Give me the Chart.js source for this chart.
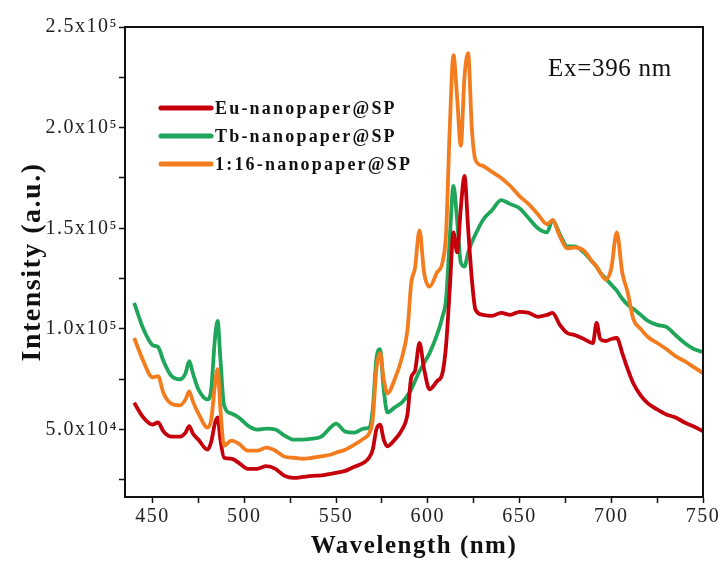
<!DOCTYPE html>
<html>
<head>
<meta charset="utf-8">
<script src="https://cdn.jsdelivr.net/npm/chart.js@4.4.0/dist/chart.umd.min.js"></script>
<style>
  html, body { margin: 0; padding: 0; background: #fff; }
</style>
</head>
<body>
<canvas id="grafico" width="725" height="565"></canvas>
<script>
const longitudes = [440, 445, 450, 453, 456, 460, 465, 468, 470, 472, 475, 480, 482, 484, 485.5, 487, 489, 493, 497, 502,
  507, 512, 517, 522, 527, 532, 537, 542, 547, 550, 555, 560, 565, 568, 570, 572, 574, 576, 578, 582,
  586, 589, 591, 593, 595.5, 598, 601, 605, 608, 610, 612, 614, 616, 618, 620, 622, 624, 626, 630, 635,
  640, 645, 650, 655, 660, 665, 668, 672, 676, 680, 685, 690, 692, 694, 697, 700, 703, 706, 709, 712,
  716, 720, 725, 730, 735, 740, 745, 750];

const euValores = [63300, 56000, 52500, 53500, 49000, 46500, 46500, 48500, 51700, 48000, 45000, 40000, 44000, 53000, 56000, 45000, 36000, 35500, 33500, 30500,
  30500, 31800, 30500, 27000, 26000, 26500, 27000, 27200, 28000, 28500, 29500, 31500, 33500, 36000, 40000, 50000, 52500, 45000, 41700, 45000,
  50000, 58000, 76000, 79000, 93000, 80000, 70000, 74000, 78000, 92000, 120000, 148000, 138000, 160000, 176000, 150000, 125000, 109600, 107000, 106500,
  108000, 107000, 108500, 108000, 106000, 107000, 108000, 102000, 98000, 97000, 95000, 93000, 103000, 95000, 94000, 95000, 95500, 88000, 80000, 73000,
  67000, 63000, 60000, 57500, 56000, 53500, 51500, 49200];

const tbValores = [113000, 100000, 92000, 91000, 84000, 77000, 75000, 78000, 84000, 78000, 70000, 65000, 70000, 95000, 104000, 85000, 62000, 58000, 56000, 52000,
  50000, 50500, 50000, 47000, 45000, 45000, 45500, 46500, 51000, 53000, 49000, 48500, 50500, 51000, 60000, 85000, 90000, 70000, 58500, 61000,
  63500, 67000, 70000, 74000, 79000, 83000, 88000, 97000, 106000, 115000, 145000, 171000, 154000, 133000, 131000, 138000, 143000, 147000, 154000, 159000,
  164000, 162000, 160000, 155000, 150000, 148000, 154000, 147000, 141000, 141000, 138000, 133000, 131000, 128000, 125000, 122000, 119000, 115000, 112000, 110000,
  107000, 104000, 102000, 101000, 97000, 93000, 90000, 88500];

const mixValores = [95500, 84000, 76000, 76500, 68000, 63000, 62000, 65000, 69000, 64000, 58000, 51000, 55000, 72000, 80000, 60000, 42000, 44500, 43000, 39500,
  39500, 41000, 39500, 36500, 36000, 35500, 36000, 36700, 37500, 38500, 40000, 42500, 45500, 48000, 55000, 80000, 88000, 75000, 68000, 75000,
  86000, 100000, 123000, 130000, 149000, 128000, 121000, 128000, 133000, 148000, 200000, 236000, 215000, 191000, 225000, 237000, 200000, 184000, 181000, 178000,
  175000, 171000, 166000, 162000, 157000, 152000, 154000, 146000, 140000, 140500, 139000, 133000, 131000, 128000, 124500, 130000, 148000, 128000, 118000, 105000,
  100000, 96000, 93000, 90000, 86500, 84000, 81000, 78000];

const nombresSeries = ["Eu-nanopaper@SP", "Tb-nanopaper@SP", "1:16-nanopaper@SP"];
const coloresSeries = ["#c5000c", "#1fa65a", "#f37d1e"];
const ticksX = [450, 475, 500, 525, 550, 575, 600, 625, 650, 675, 700, 725, 750];
const ticksY = [25000, 50000, 75000, 100000, 125000, 150000, 175000, 200000, 225000, 250000];
const textoExcitacion = "Ex=396 nm";

const fuente = "'Liberation Serif', 'Times New Roman', serif";

function puntos(valores) {
  return longitudes.map((l, i) => ({ x: l, y: valores[i] }));
}

function etiquetaY(v) {
  if (v % 50000 !== 0) return "";
  if (v >= 100000) return (v / 100000).toFixed(1) + "x10\u2075";
  return (v / 10000).toFixed(1) + "x10\u2074";
}

// el texto de la figura original sale algo espaciado
const espaciado = {
  id: "espaciado",
  beforeDraw(chart) {
    chart.ctx.letterSpacing = "1.5px";
  }
};

// marco superior/derecho, leyenda y texto de excitación
const extras = {
  id: "extras",
  afterDatasetsDraw(chart) {
    const { ctx, chartArea: a } = chart;
    ctx.save();
    ctx.strokeStyle = "#111";
    ctx.lineWidth = 2;
    ctx.beginPath();
    ctx.moveTo(a.left, a.top);
    ctx.lineTo(a.right, a.top);
    ctx.lineTo(a.right, a.bottom);
    ctx.stroke();

    ctx.font = "bold 18px " + fuente;
    ctx.letterSpacing = "2.2px";
    ctx.textBaseline = "middle";
    ctx.fillStyle = "#111";
    nombresSeries.forEach((nombre, i) => {
      const y = 108 + i * 28;
      ctx.strokeStyle = coloresSeries[i];
      ctx.lineWidth = 5;
      ctx.lineCap = "round";
      ctx.beginPath();
      ctx.moveTo(161, y);
      ctx.lineTo(211, y);
      ctx.stroke();
      ctx.fillText(nombre, 215, y + 1);
    });

    ctx.letterSpacing = "0.7px";
    ctx.font = "25px " + fuente;
    ctx.fillText(textoExcitacion, 548, 69);
    ctx.restore();
  }
};

new Chart(document.getElementById("grafico").getContext("2d"), {
  type: "line",
  data: {
    datasets: [
      { label: nombresSeries[0], data: puntos(euValores), borderColor: coloresSeries[0], order: 2 },
      { label: nombresSeries[1], data: puntos(tbValores), borderColor: coloresSeries[1], order: 3 },
      { label: nombresSeries[2], data: puntos(mixValores), borderColor: coloresSeries[2], order: 1 }
    ]
  },
  options: {
    responsive: false,
    animation: false,
    layout: { padding: { left: 0, right: 22, top: 27, bottom: 0 } },
    elements: {
      point: { radius: 0 },
      line: { borderWidth: 3.8, cubicInterpolationMode: "monotone", fill: false }
    },
    plugins: {
      legend: { display: false },
      tooltip: { enabled: false }
    },
    scales: {
      x: {
        type: "linear",
        min: 435,
        max: 750,
        afterBuildTicks: (s) => { s.ticks = ticksX.map(v => ({ value: v })); },
        afterFit: (s) => { s.height = 68; },
        grid: { drawOnChartArea: false, drawTicks: true, tickLength: 6, tickColor: "#111", tickWidth: 1.5 },
        border: { display: true, color: "#111", width: 2 },
        ticks: {
          color: "#222",
          padding: 2,
          maxRotation: 0,
          autoSkip: false,
          font: { family: fuente, size: 20 },
          callback: (v) => (v % 50 === 0 ? String(v) : "")
        },
        title: {
          display: true,
          text: "Wavelength (nm)",
          color: "#111",
          padding: { top: 0, bottom: 3 },
          font: { family: fuente, size: 25, weight: "bold" }
        }
      },
      y: {
        min: 16500,
        max: 250000,
        afterBuildTicks: (s) => { s.ticks = ticksY.map(v => ({ value: v })); },
        afterFit: (s) => { s.width = 125; },
        grid: { drawOnChartArea: false, drawTicks: true, tickLength: 6, tickColor: "#111", tickWidth: 1.5 },
        border: { display: true, color: "#111", width: 2 },
        ticks: {
          color: "#222",
          padding: 1,
          autoSkip: false,
          font: { family: fuente, size: 20 },
          callback: etiquetaY
        },
        title: {
          display: true,
          text: "Intensity (a.u.)",
          color: "#111",
          padding: { top: 16, bottom: 0 },
          font: { family: fuente, size: 28, weight: "bold" }
        }
      }
    }
  },
  plugins: [espaciado, extras]
});
</script>
</body>
</html>
